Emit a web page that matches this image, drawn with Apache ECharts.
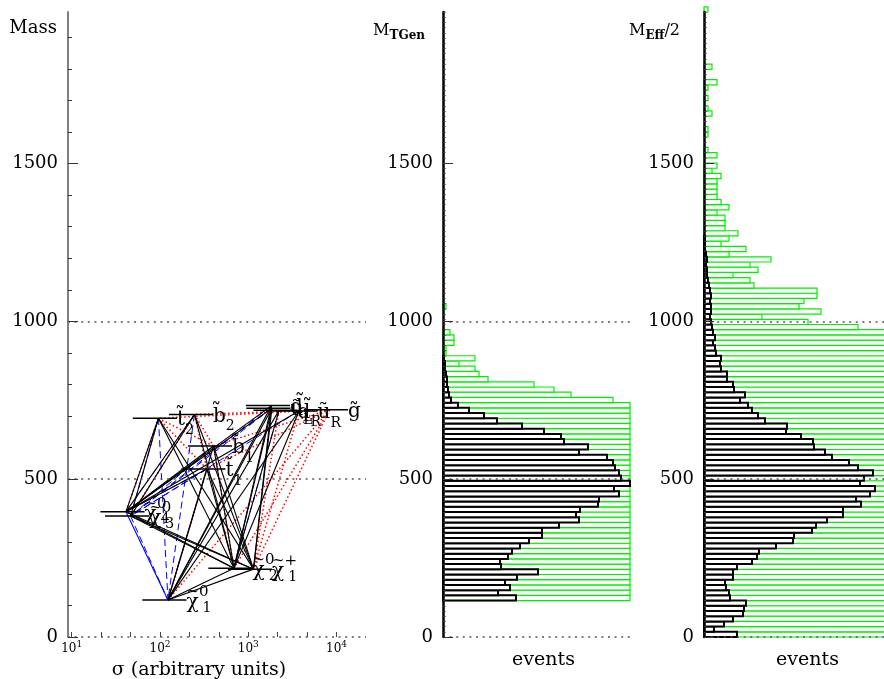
<!DOCTYPE html>
<html><head><meta charset="utf-8">
<script src="https://cdn.jsdelivr.net/npm/echarts@6/dist/echarts.min.js"></script>
<style>html,body{margin:0;padding:0;background:#fff;}#c{width:884px;height:679px;}</style>
</head><body><div id="c"></div>
<script>
const FONT = 'DejaVu Serif';
const BIN_WIDTH = 16.5;      // mass units per histogram bin
const MASS_MAX = 1980;
const HIST_MAX = 187;        // events axis maximum
const SIGMA_LOG_MIN = 0.958;
const SIGMA_LOG_MAX = 4.3333;

// tick labels
const massTicks = [0, 500, 1000, 1500];
const massHundreds = [0,100,200,300,400,500,600,700,800,900,1000,1100,1200,1300,1400,1500,1600,1700,1800,1900];
const sigmaDecades = [1, 2, 3, 4];

// particles (left panel)
const particleIds    = ['chi01','chi02','chip1','chi04','chi03','t1','t2','b1','b2','dL','uL','dR','uR','gl'];
const particleSigma  = [123, 689, 1146, 41.2, 46.5, 340, 96, 404, 246, 1832, 1853, 2230, 3750, 8320];
const particleMass   = [117, 218, 215, 397, 383, 532, 693, 605, 705, 733, 725, 718, 716, 720];
const particleSymbol = ['χ','χ','χ','χ','χ','t\u0303','t\u0303','b\u0303','b\u0303','d\u0303','u\u0303','d\u0303','u\u0303','g\u0303'];
const particleSub    = ['1','2','1','4','3','1','2','1','2','L','L','R','R',''];
const particleSup    = ['~0','~0','~+','~0','~0','','','','','','','','',''];

// decays
const blackDecays = [
  ['t2','chi04'],['t2','chi03'],['t2','chi02'],['t2','chip1'],
  ['b2','chi04'],['b2','chi03'],['b2','chip1'],['b2','chi02'],
  ['b1','chi01'],['b1','chi02'],['b1','chip1'],['b1','chi04'],
  ['t1','chi01'],['t1','chi02'],['t1','chip1'],['t1','chi04'],
  ['chi04','chi02'],['chi04','chip1'],['chi03','chi02'],['chi03','chip1'],
  ['chi02','chi01'],['chip1','chi01'],
  ['dL','chi01'],['dL','chi02'],['dL','chip1'],['dL','chi04'],
  ['uL','chi01'],['uL','chi02'],['uL','chip1'],['uL','chi04'],
  ['dR','chi01'],['dR','chi02'],['uR','chi01'],['uR','chi04'],['uR','chi02']
];
const blueDashDecays = [
  ['t2','chi01'],['t2','chi03'],['b2','chi04'],['b2','chi01'],
  ['b1','chi03'],['t1','chi03'],['t1','chi04'],['dL','chi03'],['uL','chi04'],
  ['dR','chi02'],['chi03','chi01'],['uR','chi03'],['uL','chi03']
];
const redDotDecays = [
  ['gl','t2'],['gl','b2'],['gl','b1'],['gl','t1'],['gl','chip1'],['gl','chi02'],['gl','chi01'],
  ['b2','t1'],['t2','t1'],['b2','b1'],['t2','b1'],['t1','chi01'],['b1','chi02'],
  ['uR','chip1'],['dR','chip1'],['b2','chi03'],['t2','chi04']
];
const blueSolidDecays = [['chi04','chi01']];

// M_TGen histogram (bin index start + values)
const tgenBlackStart = 7;
const tgenBlack = [73,55,67,62,74,95,58,57,65,69,77,86,99,99,116,136,133,137,155,156,176,171,187,178,176,172,170,164,136,145,121,118,101,79,54,41,26,15,8,6,5,4,4,3,2,2,1];
const tgenGreenStart = 7;
const tgenGreen = [205,198,232,240,251,266,259,280,296,301,322,340,356,371,392,405,418,433,446,452,470,466,458,441,437,410,395,380,356,332,315,290,268,251,236,214,201,192,
  170,128,111,91,45,36,32,16,32,3,3,11,11,7,0,0,0,0,3];

// M_Eff/2 histogram
const meffBlackStart = 0;
const meffBlack = [33,10,20,29,39,40,42,26,25,22,21,29,29,33,48,53,55,72,89,90,108,112,123,139,139,157,152,166,171,156,160,169,154,145,128,121,110,109,97,82,83,61,54,48,44,36,41,30,29,23,23,17,16,17,12,11,9,11,9,
  8,7,6,7,7,6,7,6,5,4,3,3,2,3,2,1,1,1];
const meffGreenStart = 0;
const meffGreen = [220,205,214,226,241,238,252,233,230,236,248,257,269,285,301,318,330,352,371,385,404,418,432,450,461,476,480,492,497,488,479,470,455,441,430,411,398,382,366,348,335,317,300,288,276,262,250,242,233,226,219,212,208,203,199,196,194,192,190,
  154,104,58,117,95,100,113,113,50,46,29,54,46,67,25,42,17,25,34,21,21,21,13,25,17,13,13,13,13,17,8,13,0,13,4,0,0,4,4,0,0,8,4,0,4,0,4,13,0,0,8,0,0,0,0,0,0,0,0,0,0,4];

// ---------- build ----------
const LINE_LEFT = 0.29, LINE_RIGHT = 0.21;
const logTicks = [];
for (let k = 3; k <= 13; k++) logTicks.push(k / 3);
const binEdges = [];
for (let k = 0; k <= MASS_MAX / BIN_WIDTH; k++) binEdges.push(+(k * BIN_WIDTH).toFixed(2));

const particleData = particleIds.map((id, i) => [Math.log10(particleSigma[i]), particleMass[i], i]);
function decayData(list) {
  return list.map(([f, t]) => {
    const i = particleIds.indexOf(f), j = particleIds.indexOf(t);
    return [Math.log10(particleSigma[i]), particleMass[i], Math.log10(particleSigma[j]), particleMass[j]];
  });
}
function decaySeries(list, style) {
  return {
    type: 'custom', xAxisIndex: 0, yAxisIndex: 0, silent: true, z: 2,
    data: decayData(list),
    renderItem: function (params, api) {
      const p = api.coord([api.value(0), api.value(1)]);
      const q = api.coord([api.value(2), api.value(3)]);
      return { type: 'line', shape: { x1: p[0], y1: p[1], x2: q[0], y2: q[1] },
               style: Object.assign({ fill: null }, style) };
    }
  };
}
function renderParticle(params, api) {
  const lx = api.value(0), m = api.value(1), i = api.value(2);
  const a = api.coord([lx - LINE_LEFT, m]);
  const b = api.coord([lx + LINE_RIGHT, m]);
  const children = [{ type: 'line', shape: { x1: a[0], y1: a[1], x2: b[0], y2: b[1] },
                      style: { stroke: '#000', lineWidth: 1.5 } }];
  const sym = particleSymbol[i], sub = particleSub[i], sup = particleSup[i];
  if (sup) {
    children.push({ type: 'text', x: b[0], y: b[1] + 3, style: {
      text: '{m|' + sym + '}{s|' + sub + '}', align: 'left', verticalAlign: 'middle',
      rich: { m: { fontFamily: FONT, fontSize: 20, lineHeight: 24, fill: '#000' },
              s: { fontFamily: FONT, fontSize: 14, lineHeight: 14, verticalAlign: 'bottom', fill: '#000', padding: [0, 0, 0, 4] } } } });
    children.push({ type: 'text', x: b[0], y: b[1] - 8, style: {
      text: sup, fontFamily: FONT, fontSize: 15, fill: '#000', align: 'left', verticalAlign: 'middle' } });
  } else {
    children.push({ type: 'text', x: b[0], y: b[1] + 2, style: {
      text: '{m|' + sym + '}' + (sub ? '{s|' + sub + '}' : ''), align: 'left', verticalAlign: 'middle',
      rich: { m: { fontFamily: FONT, fontSize: 20, lineHeight: 34, fill: '#000' },
              s: { fontFamily: FONT, fontSize: 14, lineHeight: 14, verticalAlign: 'bottom', fill: '#000' } } } });
  }
  return { type: 'group', children: children };
}
function histData(start, values) { return values.map((v, k) => [start + k, v]); }
function histSeries(xi, yi, start, values, stroke, lw, z) {
  return {
    type: 'custom', xAxisIndex: xi, yAxisIndex: yi, silent: true, z: z,
    encode: { x: 1, y: 0 },
    data: histData(start, values),
    renderItem: function (params, api) {
      const k = api.value(0), v = api.value(1);
      if (!(v > 0)) return null;
      const lo = k * BIN_WIDTH, hi = lo + BIN_WIDTH;
      const a = api.coord([0, lo]);
      const b = api.coord([Math.min(v, HIST_MAX), hi]);
      return { type: 'rect', shape: { x: a[0], y: b[1], width: b[0] - a[0], height: a[1] - b[1] },
               style: { stroke: stroke, lineWidth: lw, fill: '#fff' } };
    }
  };
}

const grids = [
  { left: 68, top: 12, width: 298, height: 625, containLabel: false, outerBoundsMode: 'none' },
  { left: 443, top: 12, width: 187, height: 625, containLabel: false, outerBoundsMode: 'none' },
  { left: 704, top: 12, width: 187, height: 625, containLabel: false, outerBoundsMode: 'none' }
];
const yNames = [
  { name: 'Mass', pad: 11, gap: -16 },
  { name: '{m|M}{s|TGen}', pad: 18, gap: -19 },
  { name: '{m|M}{s|Eff}{m|/2}', pad: 24, gap: -19 }
];
const yAxes = [];
grids.forEach((g, gi) => {
  yAxes.push({
    gridIndex: gi, type: 'value', position: 'left', min: 0, max: MASS_MAX, z: 5,
    axisLine: { show: true, lineStyle: { color: gi === 0 ? '#808080' : '#000', width: gi === 0 ? 2 : 2.5 } },
    axisTick: { show: true, inside: true, length: gi === 0 ? 4 : 2.5,
                customValues: gi === 0 ? massHundreds : binEdges, lineStyle: { color: '#333', width: 1 } },
    axisLabel: { customValues: massTicks, formatter: v => String(v), fontFamily: FONT, fontSize: 18, color: '#000', margin: 10 },
    splitLine: { show: false },
    name: yNames[gi].name, nameLocation: 'end', nameGap: yNames[gi].gap,
    nameTextStyle: { fontFamily: FONT, fontSize: 18, color: '#000', align: 'right', verticalAlign: 'middle',
      padding: [0, yNames[gi].pad, 0, 0],
      rich: { m: { fontFamily: FONT, fontSize: 16, lineHeight: 22, color: '#000' },
              s: { fontFamily: FONT, fontSize: 12, fontWeight: 'bold', lineHeight: 12, verticalAlign: 'bottom', color: '#000' } } }
  });
  yAxes.push({
    gridIndex: gi, type: 'value', position: 'left', min: 0, max: MASS_MAX, interval: 500, z: 5,
    axisLine: { show: false }, axisLabel: { show: false },
    axisTick: { show: true, inside: true, length: 10, customValues: massTicks, lineStyle: { color: '#333', width: 1 } },
    splitLine: { show: true, showMinLine: true, showMaxLine: false,
                 lineStyle: { type: [2, 4.6], color: '#555', width: 1.5 } }
  });
});

const xAxes = [
  { gridIndex: 0, type: 'value', min: SIGMA_LOG_MIN, max: SIGMA_LOG_MAX, z: 5,
    axisLine: { show: false },
    axisTick: { show: true, inside: true, length: 5, customValues: logTicks, lineStyle: { color: '#444', width: 1 } },
    axisLabel: { customValues: sigmaDecades, margin: 3,
      formatter: v => '{b|10}{s|' + Math.round(v) + '}',
      rich: { b: { fontFamily: FONT, fontSize: 12, lineHeight: 18, color: '#000' },
              s: { fontFamily: FONT, fontSize: 9, lineHeight: 9, verticalAlign: 'top', color: '#000' } } },
    splitLine: { show: false },
    name: 'σ (arbitrary units)', nameLocation: 'middle', nameGap: 33,
    nameTextStyle: { fontFamily: FONT, fontSize: 19, color: '#000', verticalAlign: 'middle', padding: [0, 36, 0, 0] } },
  { gridIndex: 1, type: 'value', min: 0, max: HIST_MAX,
    axisLine: { show: false }, axisTick: { show: false }, axisLabel: { show: false }, splitLine: { show: false },
    name: 'events', nameLocation: 'middle', nameGap: 23,
    nameTextStyle: { fontFamily: FONT, fontSize: 19, color: '#000', verticalAlign: 'middle', padding: [0, 0, 0, 14] } },
  { gridIndex: 2, type: 'value', min: 0, max: HIST_MAX,
    axisLine: { show: false }, axisTick: { show: false }, axisLabel: { show: false }, splitLine: { show: false },
    name: 'events', nameLocation: 'middle', nameGap: 23,
    nameTextStyle: { fontFamily: FONT, fontSize: 19, color: '#000', verticalAlign: 'middle', padding: [0, 0, 0, 20] } }
];

const series = [
  decaySeries(redDotDecays, { stroke: '#ff0000', lineWidth: 1.5, lineDash: [1.5, 2.5] }),
  decaySeries(blueDashDecays, { stroke: '#0000ff', lineWidth: 1, lineDash: [7, 4] }),
  decaySeries(blackDecays, { stroke: '#000', lineWidth: 1.1 }),
  decaySeries(blueSolidDecays, { stroke: '#0000ff', lineWidth: 1.1 }),
  { type: 'custom', xAxisIndex: 0, yAxisIndex: 0, silent: true, z: 3, data: particleData, renderItem: renderParticle },
  histSeries(1, 2, tgenGreenStart, tgenGreen, '#00ee00', 1.2, 2),
  histSeries(1, 2, tgenBlackStart, tgenBlack, '#000', 2, 3),
  histSeries(2, 4, meffGreenStart, meffGreen, '#00ee00', 1.2, 2),
  histSeries(2, 4, meffBlackStart, meffBlack, '#000', 2, 3)
];

const chart = echarts.init(document.getElementById('c'), null, { renderer: 'canvas' });
chart.setOption({
  animation: false,
  backgroundColor: '#fff',
  textStyle: { fontFamily: FONT },
  grid: grids,
  xAxis: xAxes,
  yAxis: yAxes,
  series: series
});
</script></body></html>
